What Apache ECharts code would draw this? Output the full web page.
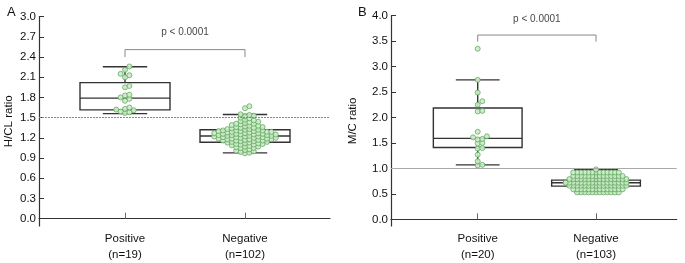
<!DOCTYPE html>
<html>
<head>
<meta charset="utf-8">
<script src="https://cdn.jsdelivr.net/npm/echarts@6/dist/echarts.min.js"></script>
<style>
  html, body { margin: 0; padding: 0; background: #fff; }
  #chart { width: 685px; height: 263px; }
</style>
</head>
<body>
<div id="chart"></div>
<script>
const categories = ['Positive', 'Negative'];
const countsA = [19, 102];
const countsB = [20, 103];

// H/CL ratio, panel A
const hclPositive = [2.26, 2.21, 2.15, 2.13, 2.10, 1.97, 1.95, 1.84, 1.83, 1.80,
  1.78, 1.75, 1.65, 1.63, 1.62, 1.61, 1.59, 1.58, 1.57];
const hclNegative = [0.97, 0.98, 0.99, 1.00, 1.01, 1.02, 1.03,
  1.05, 1.05, 1.06, 1.07, 1.07, 1.08,
  1.09, 1.10, 1.10, 1.11, 1.11, 1.12, 1.12, 1.13, 1.13, 1.14,
  1.14, 1.15, 1.15, 1.16, 1.16, 1.16, 1.17, 1.17, 1.18, 1.18, 1.18, 1.19, 1.19,
  1.19, 1.20, 1.20, 1.20, 1.21, 1.21, 1.21, 1.22, 1.22, 1.22, 1.23, 1.23, 1.23, 1.24, 1.24,
  1.24, 1.25, 1.25, 1.25, 1.26, 1.26, 1.26, 1.27, 1.27, 1.27, 1.28, 1.28, 1.29, 1.29,
  1.29, 1.30, 1.30, 1.30, 1.31, 1.31, 1.31, 1.32, 1.32, 1.33, 1.33, 1.34,
  1.35, 1.35, 1.36, 1.36, 1.37, 1.38, 1.38,
  1.39, 1.40, 1.41, 1.41, 1.42, 1.43,
  1.44, 1.45, 1.46, 1.47, 1.49, 1.50, 1.52, 1.53, 1.54, 1.55, 1.64, 1.67];
// [min, Q1, median, Q3, max]
const hclBox = [[1.56, 1.615, 1.79, 2.02, 2.255], [0.977, 1.135, 1.227, 1.32, 1.547]];
const hclTicks = [0, 0.3, 0.6, 0.9, 1.2, 1.5, 1.8, 2.1, 2.4, 2.7, 3.0];
const hclCutoff = 1.5;

// M/C ratio, panel B
const mcPositive = [3.35, 2.74, 2.49, 2.32, 2.25, 2.13, 2.12, 1.72, 1.63, 1.61,
  1.58, 1.57, 1.50, 1.49, 1.40, 1.39, 1.27, 1.14, 1.07, 1.06];
const mcNegative = [
  0.53, 0.53, 0.53, 0.53, 0.53, 0.53, 0.53, 0.53, 0.53, 0.53, 0.53, 0.53,
  0.59, 0.59, 0.59, 0.59, 0.59, 0.59, 0.59, 0.59, 0.59, 0.59, 0.59, 0.59, 0.59, 0.59,
  0.66, 0.66, 0.66, 0.66, 0.66, 0.66, 0.66, 0.66, 0.66, 0.66, 0.66, 0.66, 0.66, 0.66, 0.66, 0.66,
  0.72, 0.72, 0.72, 0.72, 0.72, 0.72, 0.72, 0.72, 0.72, 0.72, 0.72, 0.72, 0.72, 0.72, 0.72, 0.72, 0.72,
  0.79, 0.79, 0.79, 0.79, 0.79, 0.79, 0.79, 0.79, 0.79, 0.79, 0.79, 0.79, 0.79, 0.79, 0.79, 0.79,
  0.85, 0.85, 0.85, 0.85, 0.85, 0.85, 0.85, 0.85, 0.85, 0.85, 0.85, 0.85, 0.85, 0.85,
  0.92, 0.92, 0.92, 0.92, 0.92, 0.92, 0.92, 0.92, 0.92, 0.92, 0.92, 0.92, 0.92,
  0.98];
const mcBox = [[1.07, 1.41, 1.59, 2.187, 2.74], [0.54, 0.652, 0.718, 0.77, 0.979]];
const mcTicks = [0, 0.5, 1.0, 1.5, 2.0, 2.5, 3.0, 3.5, 4.0];
const mcCutoff = 1.0;

const pText = 'p < 0.0001';
// bracket: [leg bottom, bar height, label height]
const hclBracket = [2.40, 2.51, 2.77];
const mcBracket = [3.49, 3.62, 3.93];

const FONT = 'Liberation Sans, Arial, sans-serif';
const DARK = '#333';
const BOX_W = 0.75;
const CAP_W = 0.37;

let chart = echarts.init(document.getElementById('chart'));

function xAxisFor(grid, min, max, counts) {
  return {
    type: 'value', gridIndex: grid, min: min, max: max,
    splitLine: { show: false },
    axisLine: { lineStyle: { color: DARK, width: 1.2 } },
    axisTick: { inside: true, length: 6, customValues: [1, 2], lineStyle: { color: '#666' } },
    axisLabel: {
      customValues: [1, 2], margin: 5, lineHeight: 16,
      fontFamily: FONT, fontSize: 11.5, color: '#111',
      formatter: (v) => categories[Math.round(v) - 1] + '\n(n=' + counts[Math.round(v) - 1] + ')',
    },
  };
}

function yAxisFor(grid, min, max, ticks, name, gap) {
  return {
    type: 'value', gridIndex: grid, min: min, max: max,
    name: name, nameLocation: 'middle', nameGap: gap,
    nameTextStyle: { fontFamily: FONT, fontSize: 11.5, color: '#111' },
    splitLine: { show: false },
    axisLine: { show: true, lineStyle: { color: DARK, width: 1.2 } },
    axisTick: { inside: true, length: 5, customValues: ticks, lineStyle: { color: DARK } },
    axisLabel: {
      customValues: ticks, margin: 3,
      fontFamily: FONT, fontSize: 11.5, color: '#111',
      formatter: (v) => v.toFixed(1),
    },
  };
}

function boxSeries(idx, stats) {
  return {
    type: 'custom', xAxisIndex: idx, yAxisIndex: idx, z: 2, silent: true,
    data: stats.map((s, i) => [i + 1].concat(s)),
    encode: { x: 0, y: [1, 2, 3, 4, 5] },
    renderItem: function (params, api) {
      const x = api.value(0);
      const lineStyle = { stroke: DARK, lineWidth: 1.4, fill: null };
      const p = (dx, v) => api.coord([x + dx, v]);
      const bl = p(-BOX_W / 2, api.value(2));
      const tr = p(BOX_W / 2, api.value(4));
      const seg = (a, b) => ({ type: 'line', shape: { x1: a[0], y1: a[1], x2: b[0], y2: b[1] }, style: lineStyle });
      return {
        type: 'group',
        children: [
          { type: 'rect', shape: { x: bl[0], y: tr[1], width: tr[0] - bl[0], height: bl[1] - tr[1] }, style: lineStyle },
          seg(p(-BOX_W / 2, api.value(3)), p(BOX_W / 2, api.value(3))),
          seg(p(0, api.value(4)), p(0, api.value(5))),
          seg(p(0, api.value(2)), p(0, api.value(1))),
          seg(p(-CAP_W / 2, api.value(5)), p(CAP_W / 2, api.value(5))),
          seg(p(-CAP_W / 2, api.value(1)), p(CAP_W / 2, api.value(1))),
        ],
      };
    },
  };
}

function dotSeries(idx, cutoff, dashed) {
  return {
    type: 'scatter', xAxisIndex: idx, yAxisIndex: idx, z: 3, silent: true,
    symbol: 'circle', symbolSize: 5,
    itemStyle: { color: '#c8eec2', borderColor: '#5f9f5f', borderWidth: 0.8, opacity: 0.92 },
    data: [],
    markLine: {
      silent: true, symbol: 'none', label: { show: false },
      lineStyle: { color: dashed ? '#888' : '#aaa', width: 1, type: dashed ? [2, 1] : 'solid' },
      data: [{ yAxis: cutoff }],
    },
  };
}

function bracketSeries(idx, b) {
  return {
    type: 'line', xAxisIndex: idx, yAxisIndex: idx, silent: true, symbol: 'none',
    lineStyle: { color: '#888', width: 1 },
    data: [[1, b[0]], [1, b[1]], [2, b[1]], [2, b[0]]],
  };
}

function pSeries(idx, b) {
  return {
    type: 'scatter', xAxisIndex: idx, yAxisIndex: idx, silent: true, symbolSize: 0,
    label: {
      show: true, position: 'inside', formatter: pText,
      fontFamily: FONT, fontSize: 10, color: '#111',
    },
    data: [[1.5, b[2]]],
  };
}

let option = {
  animation: false,
  title: [
    { text: 'A', left: 2, top: 1, textStyle: { fontFamily: FONT, fontSize: 13, fontWeight: 'normal', color: '#111' } },
    { text: 'B', left: 353, top: 1, textStyle: { fontFamily: FONT, fontSize: 13, fontWeight: 'normal', color: '#111' } },
  ],
  grid: [
    { left: 39, top: 16.6, width: 291, height: 210.9 },
    { left: 391, top: 15.7, width: 285.7, height: 211 },
  ],
  xAxis: [
    xAxisFor(0, 0.2833, 2.7083, countsA),
    xAxisFor(1, 0.267, 2.682, countsB),
  ],
  yAxis: [
    yAxisFor(0, -0.108, 3.0, hclTicks, 'H/CL ratio', 24),
    yAxisFor(1, -0.131, 4.0, mcTicks, 'M/C ratio', 32),
  ],
  series: [
    boxSeries(0, hclBox),
    boxSeries(1, mcBox),
    dotSeries(0, hclCutoff, true),
    dotSeries(1, mcCutoff, false),
    bracketSeries(0, hclBracket),
    bracketSeries(1, mcBracket),
    pSeries(0, hclBracket),
    pSeries(1, mcBracket),
  ],
};

chart.setOption(option);

// scatter dot layout: points closer than rowH vertically are pushed sideways in colW steps
function spread(values, cat, grid, rowH, colW) {
  const cx = chart.convertToPixel({ gridIndex: grid }, [cat, 0])[0];
  const pts = values
    .map((v) => ({ py: chart.convertToPixel({ gridIndex: grid }, [cat, v])[1], ox: 0 }))
    .sort((a, b) => b.py - a.py);
  const placed = [];
  pts.forEach((p) => {
    for (let k = 0; k < 60; k++) {
      const step = k === 0 ? 0 : (k % 2 ? 1 : -1) * Math.ceil(k / 2);
      const c = step * colW;
      const hit = placed.some((q) => Math.abs(p.py - q.py) < rowH && Math.abs(c - q.ox) < colW - 0.01);
      if (!hit) { p.ox = c; break; }
    }
    placed.push(p);
  });
  return pts.map((p) => chart.convertFromPixel({ gridIndex: grid }, [cx + p.ox, p.py]));
}

const dotsA = spread(hclPositive, 1, 0, 3.6, 4.4).concat(spread(hclNegative, 2, 0, 3.3, 4.4));
const dotsB = spread(mcPositive, 1, 1, 4.0, 4.6).concat(spread(mcNegative, 2, 1, 3.0, 3.8));

chart.setOption({
  series: [{}, {}, { data: dotsA }, { data: dotsB }],
});
</script>
</body>
</html>
